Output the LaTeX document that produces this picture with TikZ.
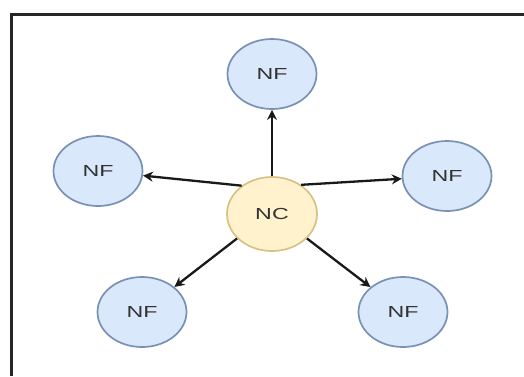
\documentclass[tikz,border=0pt]{standalone}
\usepackage{fontspec}
\setmainfont{Liberation Sans}
\usetikzlibrary{shapes.geometric,arrows.meta}
\definecolor{nffill}{HTML}{DAE8FC}
\definecolor{nfdraw}{HTML}{7891B5}
\definecolor{ncfill}{HTML}{FFF2CC}
\definecolor{ncdraw}{HTML}{D9C184}
\definecolor{txt}{HTML}{333333}
\tikzset{
  nfnode/.style={ellipse, draw=nfdraw, fill=nffill, line width=1.7pt, minimum width=89pt, minimum height=70pt, inner sep=0pt, text=txt, font=\fontsize{16}{16}\selectfont},
  ncnode/.style={ellipse, draw=ncdraw, fill=ncfill, line width=1.7pt, minimum width=90pt, minimum height=74pt, inner sep=0pt, text=txt, font=\fontsize{16}{16}\selectfont},
  link/.style={line width=2.3pt, black!90, -{Stealth[length=10pt,width=10pt]}},
  frameline/.style={line width=3pt, black!85}
}
\newcommand{\wide}[1]{\scalebox{1.45}[1]{#1}}
\begin{document}
\begin{tikzpicture}[x=1pt,y=-1pt]
\useasboundingbox (0,0) rectangle (524,376);
\fill[white] (0,0) rectangle (524,376);
\draw[frameline] (524,14) -- (11,14) -- (11,376);
\node[ncnode] (nc) at (272,214) {\wide{NC}};
\node[nfnode] (t)  at (272,74)  {\wide{NF}};
\node[nfnode] (l)  at (98,171)  {\wide{NF}};
\node[nfnode] (r)  at (447,176) {\wide{NF}};
\node[nfnode] (bl) at (142,312) {\wide{NF}};
\node[nfnode] (br) at (403,312) {\wide{NF}};
\draw[link] (nc.90) -- (t);
\draw[link] (nc.137) -- (l);
\draw[link] (nc.45) -- (r);
\draw[link] (nc.215) -- (bl);
\draw[link] (nc.325) -- (br);
\end{tikzpicture}
\end{document}
